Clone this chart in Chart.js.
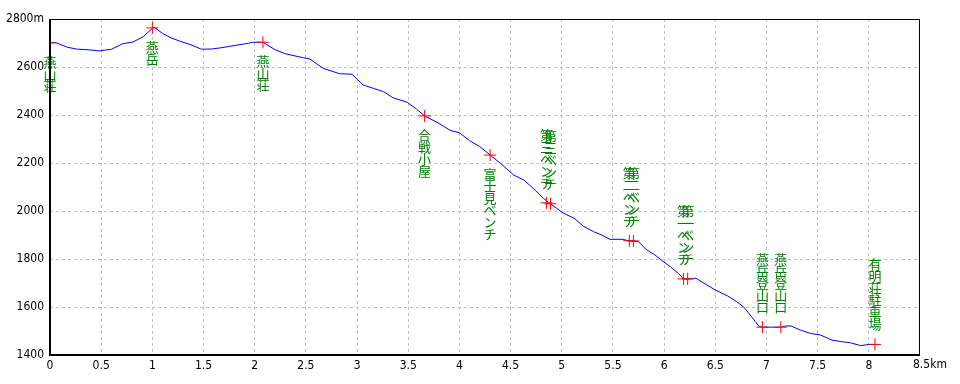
<!DOCTYPE html>
<html>
<head>
<meta charset="utf-8">
<script src="https://cdn.jsdelivr.net/npm/chart.js@4.4.1/dist/chart.umd.min.js"></script>
<style>
html,body{margin:0;padding:0;background:#fff;}
canvas{display:block;}
</style>
</head>
<body>
<canvas id="c" width="960" height="384"></canvas>
<script>
// Profile: distance (km) and elevation (m)
const distKm = [0.00,0.06,0.17,0.27,0.37,0.48,0.60,0.71,0.81,0.91,1.00,1.02,1.10,1.19,1.28,1.38,1.48,1.58,1.67,1.74,1.84,1.94,1.98,2.08,2.20,2.30,2.47,2.54,2.67,2.83,2.95,3.06,3.16,3.26,3.35,3.49,3.58,3.66,3.78,3.91,4.00,4.10,4.20,4.30,4.40,4.53,4.63,4.72,4.82,4.87,4.95,5.02,5.12,5.21,5.31,5.39,5.47,5.59,5.67,5.75,5.83,5.91,5.98,6.06,6.14,6.19,6.26,6.31,6.39,6.50,6.62,6.71,6.78,6.84,6.89,6.93,6.97,7.14,7.19,7.24,7.33,7.43,7.53,7.64,7.74,7.82,7.92,8.00,8.06];
const elevM = [2701,2701,2682,2674,2672,2667,2674,2697,2704,2726,2761,2765,2740,2720,2706,2692,2674,2675,2680,2685,2692,2699,2703,2703,2672,2655,2639,2633,2594,2572,2570,2525,2511,2497,2472,2453,2425,2396,2370,2336,2326,2293,2268,2233,2199,2150,2129,2095,2053,2036,2011,1990,1970,1937,1914,1900,1882,1882,1875,1872,1838,1817,1793,1768,1740,1717,1717,1720,1699,1671,1646,1622,1599,1567,1540,1518,1516,1516,1521,1521,1504,1490,1483,1462,1455,1451,1439,1444,1444];

// Waypoints
const wpNames = ['燕山荘','燕岳','燕山荘','合戦小屋','富士見ベンチ','第三ベンチ','第三ベンチ','第二ベンチ','第二ベンチ','第一ベンチ','第一ベンチ','燕岳登山口','燕岳登山口','有明荘駐車場'];
const wpDist = [0.00,1.00,2.08,3.66,4.30,4.85,4.89,5.66,5.70,6.19,6.23,6.96,7.14,8.06];
const wpElev = [2701,2763,2703,2396,2233,2034,2030,1876,1875,1717,1717,1516,1516,1444];
const wpSide = ['below','below','below','below','below','above','above','above','above','above','above','above','above','above'];

// Axis ticks
const xMin = 0, xMax = 8.5, xStep = 0.5, xUnit = 'km';
const yMin = 1400, yMax = 2800, yStep = 200, yUnit = 'm';

const tickFontFamily = "'Liberation Sans Narrow','DejaVu Sans Condensed','Liberation Sans',sans-serif";
const tickFont = {family: tickFontFamily, size: 12};

const labelPlugin = {
  id: 'wpLabels',
  afterDatasetsDraw(chart) {
    const ctx = chart.ctx;
    const xs = chart.scales.x, ys = chart.scales.y;
    ctx.save();
    ctx.fillStyle = '#008000';
    ctx.font = "13px 'Noto Sans CJK JP'";
    ctx.textAlign = 'center';
    ctx.textBaseline = 'middle';
    const step = 12;
    wpNames.forEach((name, i) => {
      const px = xs.getPixelForValue(wpDist[i]);
      const py = ys.getPixelForValue(wpElev[i]);
      const chars = Array.from(name);
      let top;
      if (wpSide[i] === 'below') top = py + 13;
      else top = py - 14 - chars.length * step;
      chars.forEach((ch, k) => {
        ctx.fillText(ch, px, top + step * k + step / 2);
      });
    });
    // frame
    const a = chart.chartArea;
    ctx.strokeStyle = '#000';
    ctx.lineWidth = 1;
    ctx.strokeRect(a.left + 0.5, a.top + 0.5, a.right - a.left - 1, a.bottom - a.top - 1);
    ctx.lineWidth = 2;
    ctx.beginPath();
    ctx.moveTo(a.left, a.top);
    ctx.lineTo(a.left, a.bottom);
    ctx.lineTo(a.right, a.bottom);
    ctx.stroke();
    // last x tick label with unit, drawn starting just left of the tick
    ctx.fillStyle = '#000';
    ctx.font = "12px " + tickFontFamily;
    ctx.textAlign = 'left';
    ctx.textBaseline = 'top';
    ctx.fillText(xMax + xUnit, xs.getPixelForValue(xMax) - 7, a.bottom + 4);
    ctx.restore();
  }
};

new Chart(document.getElementById('c'), {
  type: 'scatter',
  data: {
    datasets: [
      {
        data: distKm.map((d, i) => ({x: d, y: elevM[i]})),
        showLine: true,
        borderColor: '#0000ff',
        borderWidth: 1,
        pointRadius: 0,
        tension: 0,
        order: 2
      },
      {
        data: wpDist.map((d, i) => ({x: d, y: wpElev[i]})),
        showLine: false,
        pointStyle: 'cross',
        pointRadius: 6,
        pointBorderColor: '#ff0000',
        pointBorderWidth: 1,
        order: 1
      }
    ]
  },
  options: {
    responsive: false,
    devicePixelRatio: 1,
    animation: false,
    events: [],
    layout: {padding: {left: 0, top: 19, right: 40, bottom: 0}},
    plugins: {legend: {display: false}, tooltip: {enabled: false}},
    scales: {
      x: {
        type: 'linear', min: xMin, max: xMax,
        afterFit(s) { s.height = 29; },
        ticks: {
          stepSize: xStep, color: '#000', font: tickFont, padding: 4, maxRotation: 0,
          callback: (v) => v === xMax ? '' : v
        },
        grid: {
          color: (c) => (c.tick && (c.tick.value === xMin || c.tick.value === xMax)) ? 'rgba(0,0,0,0)' : '#c0c0c0',
          drawTicks: false, lineWidth: 1
        },
        border: {display: false, dash: [3, 3]}
      },
      y: {
        type: 'linear', min: yMin, max: yMax,
        afterFit(s) { s.width = 50; },
        ticks: {
          stepSize: yStep, color: '#000', font: tickFont, padding: 6,
          callback: (v) => v === yMax ? v + yUnit : v
        },
        grid: {
          color: (c) => (c.tick && (c.tick.value === yMin || c.tick.value === yMax)) ? 'rgba(0,0,0,0)' : '#c0c0c0',
          drawTicks: false, lineWidth: 1
        },
        border: {display: false, dash: [3, 3]}
      }
    }
  },
  plugins: [labelPlugin]
});
</script>
</body>
</html>
